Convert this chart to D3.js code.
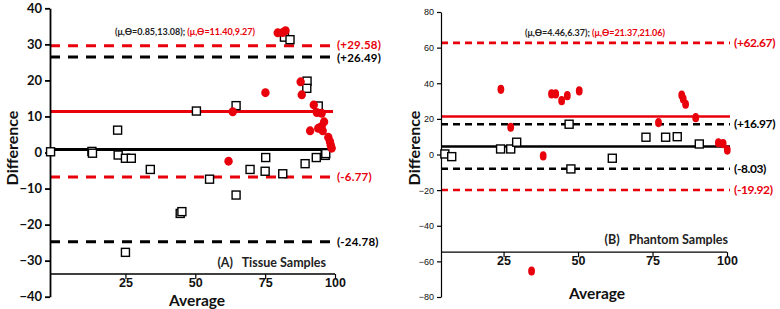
<!DOCTYPE html>
<html><head><meta charset="utf-8">
<script src="https://cdn.jsdelivr.net/npm/d3@7"></script>
<style>
body{margin:0;background:#fff;}
svg{display:block;font-family:Lato,"Open Sans",sans-serif;}
</style></head>
<body><svg id="c" width="780" height="309"></svg>
<script>
const RED = "#e8000b";
// Panel A: Tissue samples
const tissueSquaresX = [-1.8,13,13.2,22.2,22.4,25,27.1,33.9,55.1,64.6,50.4,64.6,44.6,45.2,25,75.2,69.6,75,81.3,89.3,93.3,96.5,96.7,90,89.9,94,81.9,83.9];
const tissueSquaresY = [0.2,0.3,-0.2,6.2,-0.7,-1.6,-1.6,-4.7,-7.4,-11.8,11.5,13.0,-16.9,-16.4,-27.7,-1.4,-4.7,-5.2,-5.9,-3.1,-1.4,-0.8,-0.3,19.8,17.8,12.9,32.0,31.3];
const tissueCirclesX = [79.5,81.3,82.3,75.1,63.4,87.7,88.1,92.4,93.5,95.2,96.1,95.2,94,95.6,91.1,97.6,98.2,98.5,98.8,61.9];
const tissueCirclesY = [33.2,33.3,33.8,16.6,11.3,19.6,16.0,13.2,11.1,10.9,8.5,7.2,6.7,6.0,6.0,4.2,3.0,2.0,1.2,-2.4];
const tissueLines = [29.58,26.49,11.40,0.85,-6.77,-24.78];
const tissueLineLabels = ["(+29.58)","(+26.49)","","","(-6.77)","(-24.78)"];
const tissueYTicks = [40,30,20,10,0,-10,-20,-30,-40];
// Panel B: Phantom samples
const phantomSquaresX = [5.3,7.6,24,27.4,29.4,47,61.5,47.6,72.8,79.4,83.3,90.7];
const phantomSquaresY = [0.3,-1.2,3.1,3.1,6.9,17,-2.1,-8.1,9.7,9.7,10.0,5.9];
const phantomCirclesX = [24.1,27.4,38.3,41.1,42.5,44.5,46.4,50.4,77,84.8,85.3,86.1,89.5,97.1,98.7,100.1,34.4];
const phantomCirclesY = [36.6,15.3,-0.8,34,34,30.2,33.0,35.7,17.9,33.4,31.2,28.2,20.7,6.6,6.1,2.5,-65.4];
const phantomLines = [62.67,16.97,21.37,4.46,-8.03,-19.92];
const phantomLineLabels = ["(+62.67)","(+16.97)","","","(-8.03)","(-19.92)"];
const phantomYTicks = [80,60,40,20,0,-20,-40,-60,-80];
const lineColors = [RED,"#000",RED,"#000",RED,"#000"];
const phantomLineColors = [RED,"#000",RED,"#000","#000",RED];
const lineDashed = [true,true,false,false,true,true];
const xTicks = [25,50,75,100];

const svg = d3.select("#c");

function panel(o){
  const g = svg.append("g");
  const x = d3.scaleLinear().domain(o.xDomain).range(o.xRange);
  const y = d3.scaleLinear().domain(o.yDomain).range(o.yRange);
  // reference lines
  o.lines.forEach((v,i)=>{
    g.append("line").attr("x1",o.xRange[0]).attr("x2",o.lineEnd)
      .attr("y1",y(v)).attr("y2",y(v))
      .attr("stroke",o.colors[i]).attr("stroke-width",o.lw)
      .attr("stroke-dasharray",lineDashed[i]?o.dash:null);
    if(o.labels[i]) g.append("text").attr("x",o.lineEnd+4).attr("y",y(v)+(o.nudge?o.nudge[i]:0)).attr("dy","0.35em")
      .attr("fill",o.colors[i]).attr("font-size",o.lblSize).attr("font-weight","bold")
      .attr("letter-spacing",o.lblSpacing).text(o.labels[i]);
  });
  // y axis
  const ya = d3.axisLeft(y).tickValues(o.yTicks).tickSize(o.ytickLen).tickSizeOuter(0);
  const yg = g.append("g").attr("transform",`translate(${o.xRange[0]},0)`).call(ya);
  yg.select(".domain").attr("stroke","#000").attr("stroke-width",o.yaw);
  yg.selectAll(".tick line").attr("stroke","#000").attr("stroke-width",o.yaw);
  yg.selectAll("text").attr("font-size",o.ytSize).attr("font-weight",o.ytWeight)
    .attr("fill","#111").attr("font-family",o.ytFont).attr("x",-o.ytickLen-3);
  // x axis
  const xa = d3.axisBottom(x).tickValues(xTicks).tickSize(5).tickSizeOuter(0);
  const xg = g.append("g").attr("transform",`translate(0,${y(o.xCross)})`).call(xa);
  xg.select(".domain").attr("stroke","#000").attr("stroke-width",1.3)
    .attr("d",`M${o.xRange[0]},0H${o.xRange[1]}`);
  xg.selectAll(".tick line").attr("stroke","#000").attr("stroke-width",1.2);
  xg.selectAll("text").attr("font-size",12.5).attr("font-weight","bold").attr("fill","#111").attr("y",4.5);
  // squares
  const sq = d3.range(o.sx.length);
  g.selectAll("rect.sq").data(sq).join("rect").attr("class","sq")
    .attr("x",i=>x(o.sx[i])-4).attr("y",i=>y(o.sy[i])-4).attr("width",8).attr("height",8)
    .attr("fill","#fff").attr("stroke","#000").attr("stroke-width",1.4);
  // circles
  const ci = d3.range(o.cx.length);
  g.selectAll("ellipse.ci").data(ci).join("ellipse").attr("class","ci")
    .attr("cx",i=>x(o.cx[i])).attr("cy",i=>y(o.cy[i])).attr("rx",o.rx).attr("ry",o.ry)
    .attr("fill",RED);
  // axis titles
  g.append("text").attr("x",o.avgX).attr("y",o.avgY).attr("text-anchor","middle")
    .attr("font-size",15.5).attr("font-weight","bold").attr("fill","#111").text("Average");
  g.append("text").attr("transform",`translate(${o.diffX},${o.diffY}) rotate(-90)`).attr("text-anchor","middle")
    .attr("font-size",16).attr("font-weight","bold").attr("fill","#111").text("Difference");
  // panel label
  g.append("text").attr("x",o.pX).attr("y",o.pY).attr("text-anchor","end").attr("font-size",12.5)
    .attr("font-weight","bold").attr("fill","#222").attr("xml:space","preserve").text(o.pLabel);
  // stats annotation
  const t = g.append("text").attr("x",o.aX).attr("y",o.aY).attr("font-size",9).attr("font-weight","bold");
  t.append("tspan").attr("fill","#222").text(o.a1);
  t.append("tspan").attr("fill",RED).text(o.a2);
}

panel({xDomain:[-2,100],xRange:[50,335],yDomain:[-40,40],yRange:[296.7,8.3],
  lines:tissueLines,labels:tissueLineLabels,colors:lineColors,lineEnd:333,lw:3,dash:"10,8",lblSize:11.5,lblSpacing:0.2,
  nudge:[-1,1,0,0,0,0],
  yTicks:tissueYTicks,ytickLen:5,yaw:1.8,ytSize:13,ytWeight:"bold",ytFont:"Lato",
  xCross:-33.7,sx:tissueSquaresX,sy:tissueSquaresY,cx:tissueCirclesX,cy:tissueCirclesY,rx:4.2,ry:4.5,
  avgX:197,avgY:305.5,diffX:18,diffY:148,pX:326,pY:267,pLabel:"(A)   Tissue Samples",
  aX:115,aY:35,a1:"(μ,ϴ=0.85,13.08); ",a2:"(μ,ϴ=11.40,9.27)"});

panel({xDomain:[4,100],xRange:[441,727],yDomain:[-80,80],yRange:[297,12],
  lines:phantomLines,labels:phantomLineLabels,colors:phantomLineColors,lineEnd:730,lw:2.6,dash:"7,5",lblSize:12,lblSpacing:-0.4,
  yTicks:phantomYTicks,ytickLen:4,yaw:1.2,ytSize:9,ytWeight:"normal",ytFont:"Liberation Sans Narrow, Liberation Sans",
  xCross:-54.8,sx:phantomSquaresX,sy:phantomSquaresY,cx:phantomCirclesX,cy:phantomCirclesY,rx:3.4,ry:4.6,
  avgX:597,avgY:299,diffX:420,diffY:148,pX:728,pY:244,pLabel:"(B)   Phantom Samples",
  aX:525,aY:36,a1:"(μ,ϴ=4.46,6.37); ",a2:"(μ,ϴ=21.37,21.06)"});
</script></body></html>
